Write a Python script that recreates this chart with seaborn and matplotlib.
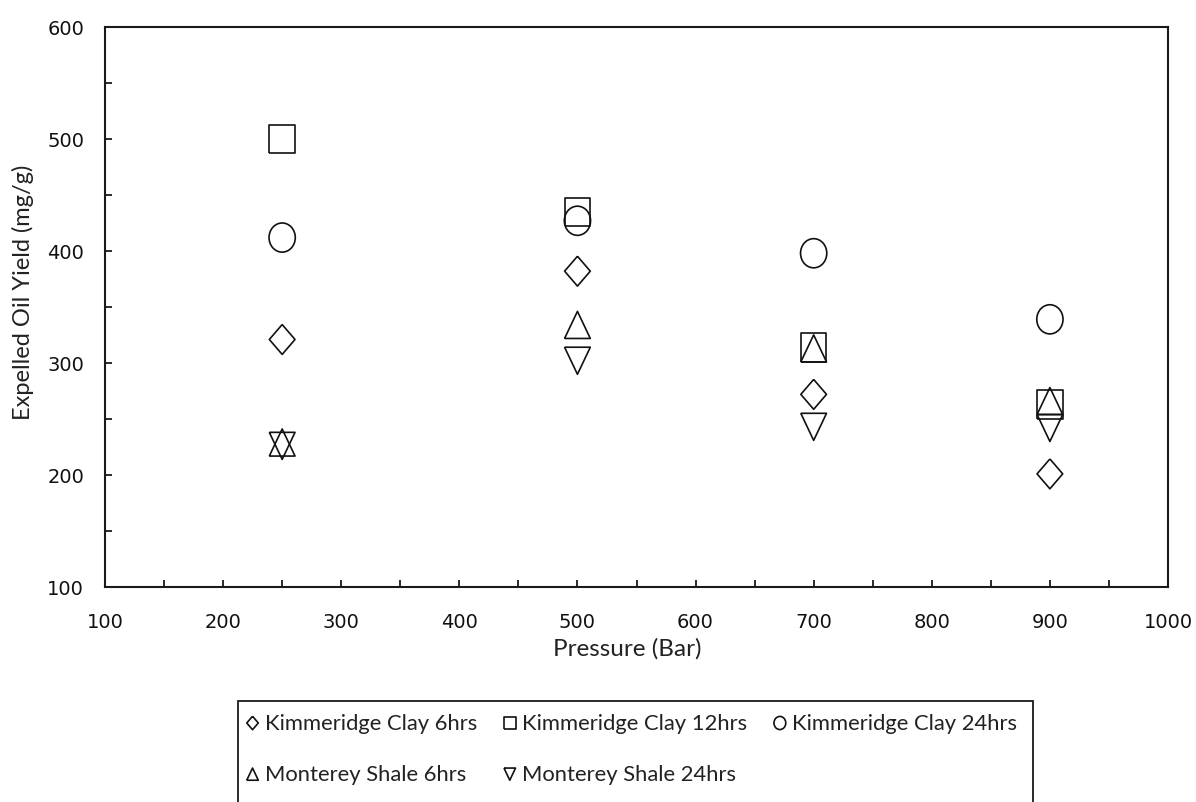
import numpy as np
import pandas as pd
import seaborn as sns
import matplotlib
matplotlib.use("Agg")
import matplotlib.pyplot as plt
from matplotlib.markers import MarkerStyle
from matplotlib.transforms import Affine2D
from matplotlib.patches import Rectangle
from matplotlib import font_manager

# ---- data -------------------------------------------------------------
pressure = [250, 500, 700, 900]
series_names = [
    "Kimmeridge Clay 6hrs",
    "Kimmeridge Clay 12hrs",
    "Kimmeridge Clay 24hrs",
    "Monterey Shale 6hrs",
    "Monterey Shale 24hrs",
]
kc_6hrs = [321, 382, 272, 201]
kc_12hrs = [500, 435, 314, 263]
kc_24hrs = [412, 427, 398, 339]
ms_6hrs = [229, 334, 313, 266]
ms_24hrs = [226, 302, 243, 242]

x_ticks = [100, 200, 300, 400, 500, 600, 700, 800, 900, 1000]
y_ticks = [100, 200, 300, 400, 500, 600]

# ---- fonts --------------------------------------------------------------
sns.set_theme(style="white")
installed = {f.name for f in font_manager.fontManager.ttflist}
narrow = [f for f in ["Liberation Sans Narrow", "Lato"] if f in installed] + ["DejaVu Sans"]
plt.rcParams["font.family"] = ["DejaVu Sans"]

# ---- marker shapes (outline only, slightly tall) -------------------------
diamond = MarkerStyle([(0, 1), (0.86, 0), (0, -1), (-0.86, 0), (0, 1)])
square = MarkerStyle([(-0.9, -1), (0.9, -1), (0.9, 1), (-0.9, 1), (-0.9, -1)])
circle = MarkerStyle("o", transform=Affine2D().scale(0.9, 1.0))
tri_up = MarkerStyle([(-0.95, -1), (0.95, -1), (0, 1), (-0.95, -1)])
tri_down = MarkerStyle([(-0.95, 1), (0.95, 1), (0, -1), (-0.95, 1)])

# marker heights in points
styles = [
    (kc_6hrs, diamond, 21.5),
    (kc_12hrs, square, 20.5),
    (kc_24hrs, circle, 21.0),
    (ms_6hrs, tri_up, 19.5),
    (ms_24hrs, tri_down, 19.5),
]

fig = plt.figure(figsize=(11.96, 8.03), dpi=100)
fig.patch.set_facecolor("white")
W, H = 1196, 803
ax = fig.add_axes([105 / W, (H - 588) / H, (1168 - 105) / W, (588 - 28) / H])

handles = []
for name, (vals, mk, ms) in zip(series_names, styles):
    df = pd.DataFrame({"Pressure": pressure, "Yield": vals})
    sns.scatterplot(
        data=df, x="Pressure", y="Yield", ax=ax,
        marker=mk, s=ms ** 2,
        facecolor="none", edgecolor="#111111", color="#111111",
        linewidth=1.2, label=name, legend=False,
    )
    handles.append(ax.collections[-1])

ax.set_xlim(100, 1000)
ax.set_ylim(100, 600)
ax.set_xticks(x_ticks)
ax.set_yticks(y_ticks)
ax.set_xticks(np.arange(150, 1000, 100), minor=True)
ax.set_yticks(np.arange(150, 600, 100), minor=True)

for side in ["left", "right", "top", "bottom"]:
    ax.spines[side].set_visible(True)
    ax.spines[side].set_color("#1a1a1a")
    ax.spines[side].set_linewidth(1.5)

ax.tick_params(axis="both", which="both", direction="in", length=5,
               width=1.3, color="#1a1a1a", top=False, right=False,
               bottom=True, left=True)
ax.tick_params(axis="y", which="major", pad=15, labelsize=14, labelcolor="#111111")
ax.tick_params(axis="x", which="major", pad=18, labelsize=14, labelcolor="#111111")
ax.grid(False)

ax.set_xlabel("Pressure (Bar)", fontsize=17.5, color="#222222", family=narrow)
ax.xaxis.set_label_coords((627 - 105) / 1063, (588 - 638) / 560)
ax.set_ylabel("Expelled Oil Yield (mg/g)", fontsize=17, color="#222222", family=narrow)
ax.yaxis.set_label_coords((34 - 105) / 1063, (588 - 292) / 560)

# legend in a plain box that runs off the bottom of the figure
order = [0, 3, 1, 4, 2]
leg = fig.legend(
    [handles[i] for i in order], [series_names[i] for i in order],
    ncol=3, loc="upper left", bbox_to_anchor=(224 / W, 1 - 694 / H),
    frameon=False, markerscale=0.45, handletextpad=0.15, handlelength=0.8,
    columnspacing=1.1, labelspacing=1.42, borderpad=0.4,
    prop={"family": narrow, "size": 15.8},
)
for t in leg.get_texts():
    t.set_color("#222222")

fig.add_artist(Rectangle((238 / W, -0.05), (1033 - 238) / W, 0.05 + 1 - 702 / H,
                         transform=fig.transFigure, fill=False,
                         edgecolor="#1a1a1a", linewidth=1.3))

fig.savefig("out.png", dpi=100, facecolor="white")
